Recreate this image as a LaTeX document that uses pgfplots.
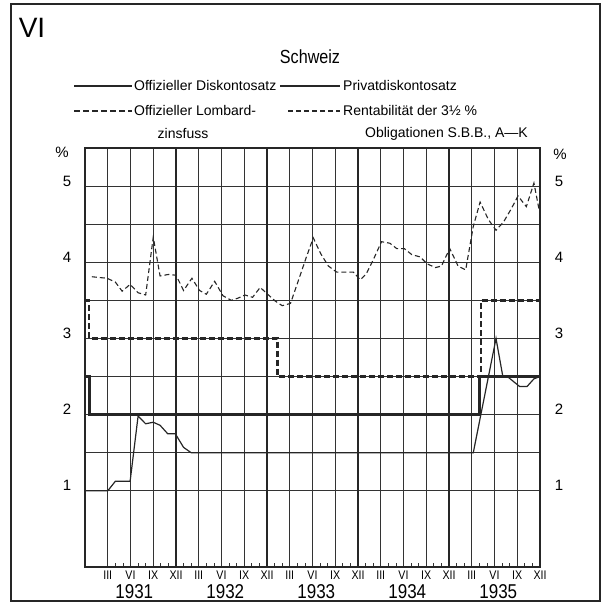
\documentclass[border=0pt]{standalone}
\usepackage{fontspec}
\setmainfont{Liberation Sans}
\newfontfamily\condfont[FakeStretch=0.85]{Liberation Sans}
\usepackage{pgfplots}
\usepackage{pgfplotstable}
\pgfplotsset{compat=1.18}

\pgfplotstableread{
x y
0 2.5
0.6 2.5
0.6 2
52 2
52 2.5
60 2.5
}\offdisk

\pgfplotstableread{
x y
0 3.5
0.55 3.5
0.55 3
25.4 3
25.4 2.5
52.2 2.5
52.2 3.5
60 3.5
}\lombard

\pgfplotstableread{
x y
0 1.0
3.0 1.0
4.0 1.125
5.95 1.125
7.0 1.98
8.0 1.88
9.0 1.9
9.9 1.86
10.9 1.75
11.9 1.75
13.0 1.57
14.0 1.5
51.2 1.5
54.2 3.0
55.1 2.5
55.7 2.5
57.3 2.37
58.3 2.37
59.2 2.47
60 2.5
}\privat

\pgfplotstableread{
x y
0.9 3.81
2.9 3.79
4.0 3.74
4.9 3.62
5.95 3.71
7.0 3.60
8.0 3.57
9.0 4.33
9.9 3.82
11.0 3.84
12.0 3.83
13.0 3.63
14.1 3.79
15.1 3.63
16.0 3.58
17.1 3.75
18.2 3.56
19.3 3.50
20.2 3.53
21.1 3.57
22.1 3.54
23.1 3.67
24.2 3.57
25.1 3.49
26.0 3.43
27.1 3.46
28.1 3.75
29.2 4.07
30.1 4.32
31.1 4.11
32.1 3.95
33.2 3.87
34.4 3.87
35.4 3.87
36.3 3.77
37.1 3.85
38.0 4.03
39.1 4.27
40.2 4.25
41.1 4.18
42.1 4.18
43.1 4.10
44.2 4.07
45.1 3.98
46.2 3.93
47.0 3.95
48.1 4.18
49.2 3.95
50.2 3.90
51.2 4.47
52.1 4.79
53.2 4.56
54.2 4.42
55.2 4.53
56.2 4.70
57.1 4.87
58.2 4.73
59.2 5.04
59.9 4.68
}\rendite

\begin{document}
\begin{tikzpicture}[x=1pt,y=1pt]
\useasboundingbox (0,0) rectangle (610,604);
\draw[line width=1.5pt, black!85] (11,3) rectangle (600,600);
\node[font=\fontsize{28}{30}\selectfont, inner sep=0pt] at (32,576) {VI};
\node[font=\condfont\fontsize{19}{20}\selectfont, inner sep=0pt] at (310,547) {Schweiz};

% legend
\begin{scope}[font=\fontsize{14}{15}\selectfont, every node/.style={inner sep=1pt}]
\draw[line width=2.4pt, black!85] (74,518) -- (132,518);
\node[anchor=west] at (133,518) {Offizieller Diskontosatz};
\draw[line width=1.2pt, black!85] (280,518) -- (340,518);
\node[anchor=west] at (342,518) {Privatdiskontosatz};
\draw[line width=2.4pt, black!85, dash pattern=on 6pt off 3pt] (74,493) -- (132,493);
\node[anchor=west] at (133,493) {Offizieller Lombard-};
\draw[line width=1.1pt, black!85, dash pattern=on 5pt off 3pt] (288,493) -- (340,493);
\node[anchor=west] at (342,493) {Rentabilität der 3½ \%};
\node at (183,470) {zinsfuss};
\node[anchor=west] at (364,470) {Obligationen S.B.B., A—K};
\end{scope}

\begin{axis}[
  at={(85pt,37pt)}, anchor=south west,
  scale only axis, width=455pt, height=419pt,
  xmin=0, xmax=60, ymin=0, ymax=5.5,
  clip=false,
  axis line style={line width=1.4pt, black!85},
  xtick={3,6,...,60},
  xticklabels={III,VI,IX,XII,III,VI,IX,XII,III,VI,IX,XII,III,VI,IX,XII,III,VI,IX,XII},
  xticklabel style={font=\condfont\fontsize{12.5}{13}\selectfont, anchor=center, yshift=-8pt},
  minor x tick num=2,
  xtick pos=bottom,
  tick align=inside,
  minor tick length=4pt,
  major tick length=0pt,
  ytick={1,2,3,4,5},
  minor y tick num=1,
  ytick style={draw=none},
  yticklabel style={font=\fontsize{15}{16}\selectfont, anchor=center, xshift=-18pt, yshift=5pt},
  /pgf/number format/assume math mode=true,
  xmajorgrids, ymajorgrids, yminorgrids,
  major grid style={line width=0.75pt, black!80},
  minor grid style={line width=0.75pt, black!80},
  extra x ticks={12,24,36,48},
  extra x tick labels={},
  extra x tick style={major grid style={line width=1.15pt, black!85}},
  every minor x tick/.style={line width=0.75pt, black!80},
]
\addplot[line width=2.4pt, black!85] table {\offdisk};
\addplot[line width=2.4pt, black!85, dash pattern=on 6pt off 3pt] table {\lombard};
\addplot[line width=1.2pt, black!85] table {\privat};
\addplot[line width=1.1pt, black!85, dash pattern=on 5pt off 3pt] table {\rendite};
\foreach \yr/\xx in {1931/6.5,1932/18.5,1933/30.5,1934/42.5,1935/54.5}{
  \edef\tmp{\noexpand\node[font=\noexpand\condfont\noexpand\fontsize{20}{22}\noexpand\selectfont, inner sep=0pt] at (axis cs:\xx,0) [yshift=-25pt] {\yr};}
  \tmp
}
\node[font=\fontsize{15}{16}\selectfont, inner sep=0pt] at (rel axis cs:0,1) [xshift=-23pt, yshift=-4pt] {\%};
\node[font=\fontsize{15}{16}\selectfont, inner sep=0pt] at (rel axis cs:1,1) [xshift=20pt, yshift=-6pt] {\%};
\end{axis}

\begin{axis}[
  at={(85pt,37pt)}, anchor=south west,
  scale only axis, width=455pt, height=419pt,
  xmin=0, xmax=60, ymin=0, ymax=5.5,
  axis x line=none,
  axis y line*=right,
  axis line style={draw=none},
  ytick={1,2,3,4,5},
  ytick style={draw=none},
  yticklabel style={font=\fontsize{15}{16}\selectfont, anchor=center, xshift=19pt, yshift=5pt},
  /pgf/number format/assume math mode=true,
]
\addplot[draw=none] coordinates {(0,0) (60,5.5)};
\end{axis}
\end{tikzpicture}
\end{document}
